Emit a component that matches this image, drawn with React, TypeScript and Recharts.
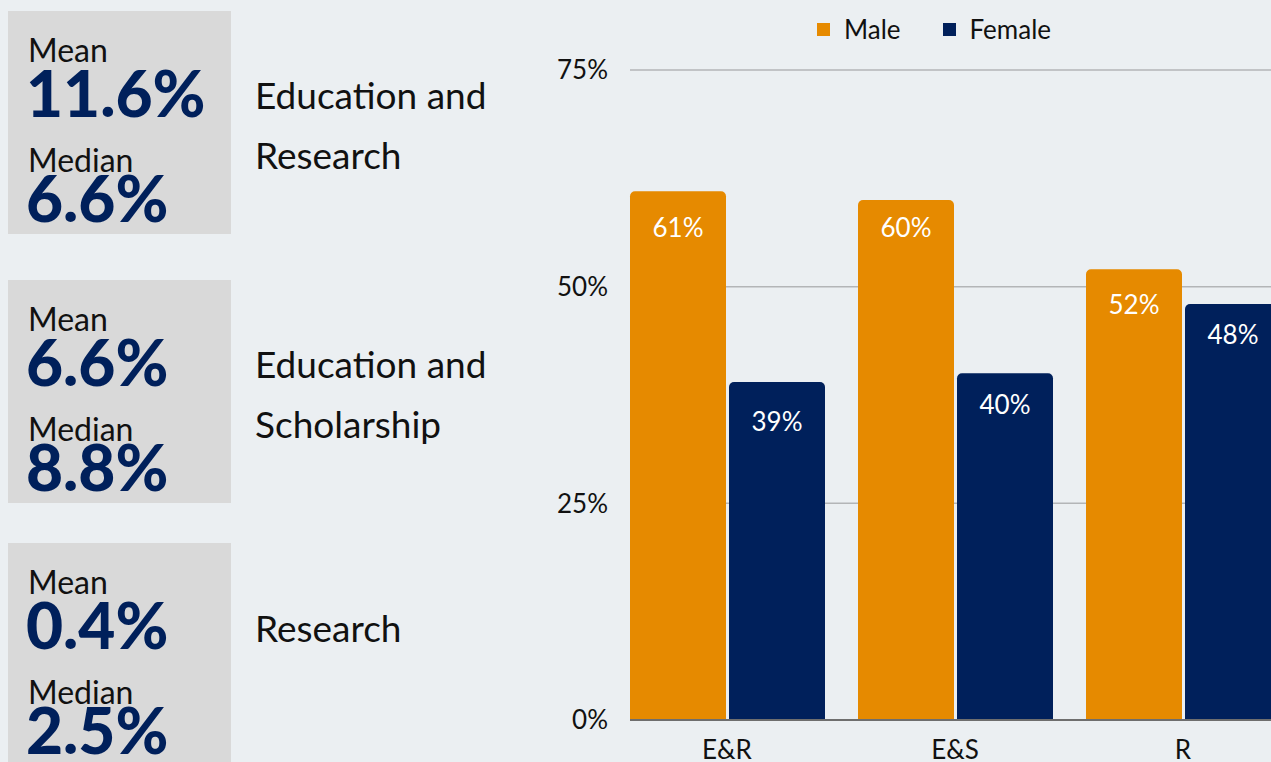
import React from 'react';
import { BarChart, Bar, XAxis, YAxis, CartesianGrid, Legend, LabelList } from 'recharts';

const categories = ['E&R', 'E&S', 'R'];
const maleValues = [61, 60, 52];
const femaleValues = [39, 40, 48];
const yTicks = [0, 25, 50, 75];

const regionLines = [['Education and', 'Research'], ['Education and', 'Scholarship'], ['Research']];
const meanValues = ['11.6%', '6.6%', '0.4%'];
const medianValues = ['6.6%', '8.8%', '2.5%'];

// baseline of each value label, measured down from the bar top
const maleLabelDy = [46, 37, 45];
const femaleLabelDy = [49, 41, 40];

const ORANGE = '#E68A00';
const NAVY = '#00205B';
const BOX_TOPS = [11, 280, 543];

const data = categories.map((name, i) => ({ name, male: maleValues[i], female: femaleValues[i] }));

function makeLabel(dys: number[]) {
  return function BarValue(props: any) {
    const { x, y, width, value, index } = props;
    return (
      <text x={x + width / 2} y={y + dys[index]} textAnchor="middle" fill="#fff" fontSize={26} fontFamily="Lato">
        {value}%
      </text>
    );
  };
}
const MaleLabel = makeLabel(maleLabelDy);
const FemaleLabel = makeLabel(femaleLabelDy);

function LegendContent() {
  const items = [
    { label: 'Male', color: ORANGE },
    { label: 'Female', color: NAVY },
  ];
  return (
    <div style={{ display: 'flex', alignItems: 'center', fontFamily: 'Lato', fontSize: 26, color: '#111' }}>
      {items.map((it) => (
        <div key={it.label} style={{ display: 'flex', alignItems: 'center', marginRight: 42 }}>
          <span style={{ width: 13, height: 13, background: it.color, display: 'inline-block', marginRight: 14 }} />
          <span>{it.label}</span>
        </div>
      ))}
    </div>
  );
}

function SummaryPanel() {
  return (
    <svg width={530} height={762} style={{ position: 'absolute', left: 0, top: 0 }} fontFamily="Lato">
      {BOX_TOPS.map((top, i) => (
        <g key={i}>
          <rect x={8} y={top} width={223} height={223} fill="#D9D9D9" />
          <text x={28} y={top + 51} fontSize={32} fill="#111">Mean</text>
          <text x={26} y={top + 106} fontSize={64} fontWeight={900} fill={NAVY}>{meanValues[i]}</text>
          <text x={28} y={top + 161} fontSize={32} fill="#111">Median</text>
          <text x={26} y={top + 211} fontSize={64} fontWeight={900} fill={NAVY}>{medianValues[i]}</text>
          {regionLines[i].map((line, j) => (
            <text
              key={j}
              x={255}
              y={top + (regionLines[i].length === 1 ? 99 : 98 + j * 60)}
              fontSize={37}
              fill="#111"
            >
              {line}
            </text>
          ))}
        </g>
      ))}
    </svg>
  );
}

export default function App() {
  return (
    <div
      style={{
        position: 'fixed',
        left: 0,
        top: 0,
        width: 1271,
        height: 762,
        overflow: 'hidden',
        background: '#EBEFF2',
        fontFamily: 'Lato',
      }}
    >
      <SummaryPanel />
      <div style={{ position: 'absolute', left: 530, top: 0 }}>
        <BarChart
          width={770}
          height={762}
          data={data}
          margin={{ top: 70, right: 0, bottom: 0, left: 0 }}
          barSize={96}
          barGap={3}
        >
          <CartesianGrid vertical={false} stroke="#b3b5b7" strokeWidth={1.5} />
          <XAxis
            dataKey="name"
            height={42}
            padding={{ left: -17, right: 3 }}
            axisLine={{ stroke: '#6e6e6e', strokeWidth: 2 }}
            tickLine={false}
            tickMargin={15}
            tick={{ fill: '#111', fontSize: 26, fontFamily: 'Lato' }}
          />
          <YAxis
            type="number"
            domain={[0, 75]}
            ticks={yTicks}
            tickFormatter={(v: number) => `${v}%`}
            axisLine={false}
            tickLine={false}
            width={100}
            tickMargin={16}
            tick={{ fill: '#111', fontSize: 26, fontFamily: 'Lato' }}
          />
          <Legend
            verticalAlign="middle"
            align="center"
            content={<LegendContent />}
            wrapperStyle={{ top: 13, left: 287, width: 'auto' }}
          />
          <Bar dataKey="male" name="Male" fill={ORANGE} radius={[5, 5, 0, 0]} isAnimationActive={false}>
            <LabelList dataKey="male" content={<MaleLabel />} />
          </Bar>
          <Bar dataKey="female" name="Female" fill={NAVY} radius={[5, 5, 0, 0]} isAnimationActive={false}>
            <LabelList dataKey="female" content={<FemaleLabel />} />
          </Bar>
        </BarChart>
      </div>
    </div>
  );
}
